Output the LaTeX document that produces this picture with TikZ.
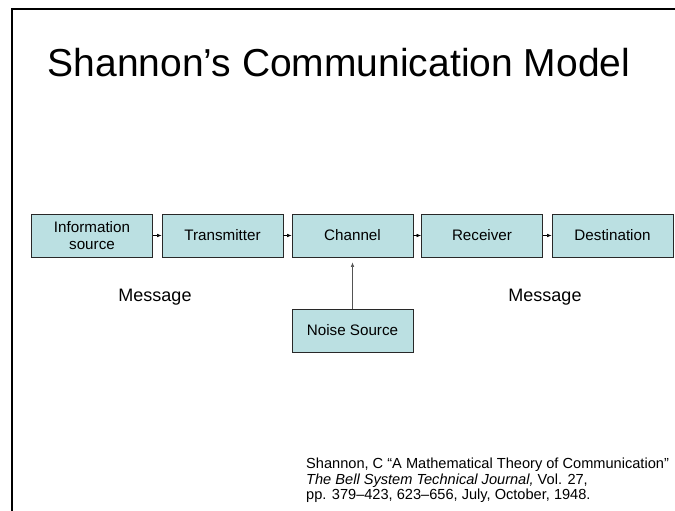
\documentclass[tikz,border=0pt]{standalone}
\usepackage{fontspec}
\setmainfont{Liberation Sans}
\usetikzlibrary{arrows.meta}
\definecolor{boxfill}{RGB}{187,224,226}
\definecolor{boxline}{RGB}{40,40,40}

\begin{document}
\begin{tikzpicture}[x=1pt,y=1pt,
  block/.style={draw=boxline,line width=0.8pt,fill=boxfill,minimum width=121pt,
    minimum height=43pt,inner sep=1pt,align=center,
    font=\fontsize{15.2}{16.5}\selectfont},
  link/.style={line width=0.6pt,-{Latex[length=4.5pt,width=3.6pt]}},
  plain/.style={font=\fontsize{18}{20}\selectfont}]
\useasboundingbox (0,0) rectangle (675,-511);
% slide frame
\draw [line width=2.4pt](11,-9) -- (675,-9);
\draw [line width=2.4pt](12,-9) -- (12,-511);
\node (title) at (339,-63) {\fontsize{39}{44}\selectfont Shannon’s Communication Model};
% the chain of blocks
\node [block](src) at (92,-235.5) {Information\\source};
\node [block](tx) at (222.5,-235.5) {Transmitter};
\node [block](chan) at (352.5,-235.5) {Channel};
\node [block](rx) at (482,-235.5) {Receiver};
\node [block](dst) at (612.5,-235.5) {Destination};
\node [block](noise) at (352.5,-330.5) {Noise Source};
\draw [link](src) -- (tx);
\draw [link](tx) -- (chan);
\draw [link](chan) -- (rx);
\draw [link](rx) -- (dst);
\draw [link,draw=boxline!80](noise) -- ([yshift=-5pt]chan.south);
\node [plain](msgin) at (155,-297) {Message};
\node [plain](msgout) at (545,-297) {Message};
% reference
\node [anchor=north west,align=left,inner sep=0pt,
  font=\fontsize{14.6}{15.5}\selectfont](cite) at (306,-458)
  {Shannon, C “A Mathematical Theory of Communication”\\
   \textit{The Bell System Technical Journal,} Vol. 27,\\
   pp. 379–423, 623–656, July, October, 1948.};
\end{tikzpicture}
\end{document}
